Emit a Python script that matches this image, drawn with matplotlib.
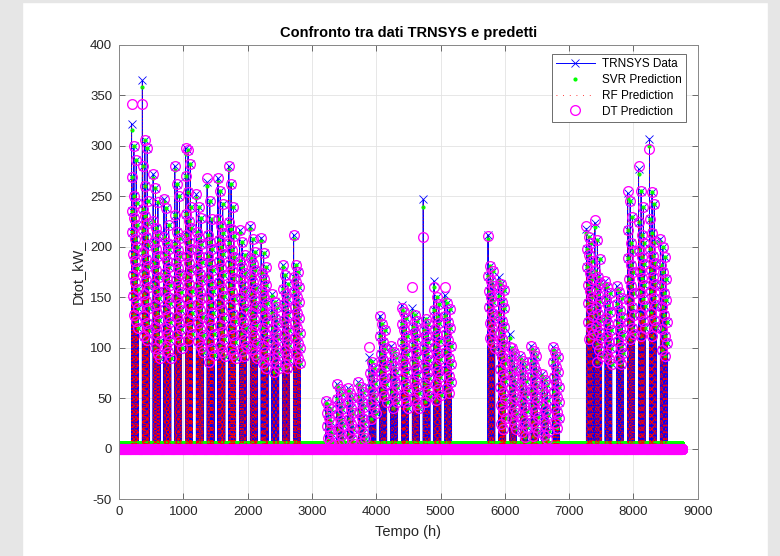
import numpy as np
import matplotlib.pyplot as plt
from matplotlib.patches import Rectangle

plt.rcParams['font.family'] = ['Liberation Sans', 'DejaVu Sans']
plt.rcParams['axes.unicode_minus'] = False

n_hours = 8760
block_len = 110

# start hour of each working week (blocks of non-zero load)
block_start = [195, 363, 531, 699, 867, 1035, 1203, 1371, 1539, 1707, 1875, 2043, 2211, 2379, 2547, 2715,
               3219, 3387, 3555, 3723, 3891, 4059, 4227, 4395, 4563, 4731, 4899, 5067,
               5739, 5907, 6075, 6243, 6411, 6579, 6747,
               7270, 7400, 7560, 7740, 7910, 8080, 8250, 8420]

# TRNSYS values read per block (kW), first value is the block peak
trnsys_blocks = [
    [322, 300, 286, 269, 250, 243, 236, 229, 222, 215, 208, 200, 193, 186, 179, 172, 165, 158, 151, 145, 139, 133, 127, 120],
    [365, 306, 298, 280, 260, 245, 238, 231, 224, 217, 210, 202, 195, 188, 181, 174, 167, 160, 153, 146, 139, 132, 125, 118, 112, 108],
    [272, 258, 244, 226, 219, 212, 205, 198, 191, 184, 177, 170, 163, 156, 149, 142, 135, 128, 121, 114, 107, 100, 94, 90],
    [247, 239, 222, 210, 204, 198, 192, 186, 180, 174, 168, 162, 156, 150, 144, 138, 132, 126, 120, 114, 108, 102, 96, 90],
    [280, 262, 250, 232, 215, 209, 203, 197, 191, 185, 179, 173, 167, 161, 155, 149, 143, 137, 131, 125, 119, 113, 107, 100],
    [298, 296, 282, 270, 254, 240, 233, 226, 219, 212, 205, 198, 191, 184, 177, 170, 163, 156, 149, 142, 135, 128, 121, 114, 108],
    [252, 240, 229, 215, 209, 203, 197, 191, 185, 179, 173, 167, 161, 155, 149, 143, 137, 131, 125, 119, 113, 107, 101, 96],
    [264, 245, 228, 212, 205, 198, 191, 184, 177, 170, 163, 156, 149, 142, 135, 128, 121, 114, 107, 100, 93, 86],
    [268, 255, 242, 228, 221, 214, 207, 200, 193, 186, 179, 172, 165, 158, 151, 144, 137, 130, 123, 116, 109, 102, 96, 92],
    [280, 262, 240, 225, 218, 211, 204, 197, 190, 183, 176, 169, 162, 155, 148, 141, 134, 127, 120, 113, 106, 99, 94, 90],
    [217, 205, 192, 186, 180, 174, 168, 162, 156, 150, 144, 138, 132, 126, 120, 114, 108, 102, 97, 92],
    [221, 208, 195, 189, 183, 177, 171, 165, 159, 153, 147, 141, 135, 129, 123, 117, 111, 105, 99, 94, 90],
    [209, 194, 180, 174, 168, 162, 156, 150, 144, 138, 132, 126, 120, 114, 108, 102, 96, 90, 85, 80],
    [153, 145, 140, 135, 130, 125, 120, 115, 110, 105, 100, 95, 90, 85, 80, 76],
    [182, 172, 163, 158, 153, 148, 143, 138, 133, 128, 123, 118, 113, 108, 103, 98, 93, 88, 84, 80],
    [212, 182, 175, 170, 165, 160, 155, 150, 145, 140, 135, 130, 125, 120, 115, 110, 105, 100, 95, 90, 85],
    [47, 43, 39, 35, 31, 27, 23, 19, 15, 11, 7, 4],
    [64, 59, 54, 49, 44, 39, 34, 29, 24, 19, 14, 9, 5],
    [60, 55, 50, 45, 40, 35, 30, 25, 20, 15, 10, 5],
    [66, 61, 56, 51, 46, 41, 36, 31, 26, 21, 16, 11, 6],
    [91, 86, 80, 75, 70, 65, 60, 55, 50, 45, 40, 35, 30],
    [132, 124, 118, 112, 106, 100, 94, 88, 82, 76, 70, 64, 58, 52, 46],
    [102, 96, 91, 86, 81, 76, 71, 66, 61, 56, 51, 46, 40],
    [142, 136, 130, 124, 118, 112, 106, 100, 94, 88, 82, 76, 70, 64, 58, 52, 46, 40],
    [139, 133, 127, 121, 115, 109, 103, 97, 91, 85, 79, 73, 67, 61, 55, 49, 44, 40],
    [247, 129, 124, 118, 112, 106, 100, 94, 88, 82, 76, 70, 64, 58, 52, 46],
    [166, 150, 143, 137, 131, 125, 119, 113, 107, 101, 95, 89, 83, 77, 71, 65, 59, 53, 48],
    [152, 144, 138, 132, 126, 120, 114, 108, 102, 96, 90, 84, 78, 72, 66, 60, 55],
    [212, 181, 176, 171, 166, 161, 156, 150, 145, 140, 135, 130, 125, 120, 115, 110, 105, 100],
    [170, 163, 157, 151, 145, 139, 133, 127, 121, 115, 109, 103, 97, 91, 85, 79, 73, 67, 61, 55, 49, 43, 37, 31, 25, 20],
    [114, 100, 95, 90, 85, 80, 75, 70, 65, 60, 55, 50, 45, 40, 35, 30, 25, 20],
    [92, 87, 82, 77, 72, 67, 62, 57, 52, 47, 42, 37, 32, 27, 22, 17, 12],
    [102, 97, 92, 87, 82, 77, 72, 67, 62, 57, 52, 47, 42, 37, 32, 27, 22, 17, 13],
    [74, 68, 63, 58, 53, 48, 43, 38, 33, 28, 23, 18, 14, 10],
    [101, 96, 91, 86, 81, 76, 71, 66, 61, 56, 51, 46, 41, 36, 31, 26, 21],
    [218, 210, 204, 198, 192, 186, 180, 174, 168, 162, 156, 150, 144, 138, 132, 126, 120, 114, 109],
    [224, 207, 188, 176, 170, 164, 158, 152, 146, 140, 134, 128, 122, 116, 110, 104, 98, 92, 86],
    [166, 160, 154, 148, 142, 136, 130, 124, 118, 112, 106, 100, 94, 89, 84],
    [161, 155, 149, 143, 137, 131, 125, 119, 113, 107, 101, 95, 89, 84],
    [253, 245, 230, 217, 204, 196, 189, 182, 175, 168, 161, 154, 147, 140, 133, 126, 120, 114, 109],
    [277, 255, 240, 225, 212, 204, 197, 190, 183, 176, 169, 162, 155, 148, 141, 134, 127, 120, 112],
    [307, 254, 242, 228, 214, 205, 198, 191, 184, 177, 170, 163, 156, 149, 142, 135, 128, 121, 112],
    [208, 200, 190, 182, 175, 168, 161, 154, 147, 140, 133, 126, 119, 112, 105, 98, 92],
]

# predicted block peaks (other hours match TRNSYS at this resolution)
svr_peak = [316, 358, 268, 244, 276, 292, 248, 260, 264, 276, 214, 218, 206, 151, 180, 208,
            45, 62, 58, 64, 88, 128, 99, 138, 136, 240, 160, 148,
            208, 166, 110, 90, 99, 72, 98,
            214, 220, 163, 158, 248, 272, 300, 205]
rf_peak = [320, 362, 270, 246, 279, 296, 250, 263, 266, 279, 216, 220, 208, 152, 181, 210,
           46, 63, 59, 65, 90, 130, 101, 140, 138, 244, 164, 150,
           211, 168, 112, 91, 100, 73, 100,
           216, 222, 165, 160, 251, 275, 304, 207]
dt_peak = [342, 342, 272, 247, 280, 298, 252, 268, 268, 280, 217, 221, 209, 153, 182, 212,
           47, 64, 60, 66, 101, 132, 102, 139, 160, 210, 160, 160,
           211, 160, 101, 92, 102, 74, 101,
           221, 227, 166, 161, 255, 280, 297, 208]

trnsys_zero = 0
svr_zero = 6
rf_zero = 0
dt_zero = 0


def build_series(peaks, zero_val):
    y = np.full(n_hours, zero_val, dtype=float)
    for s, vals, pk in zip(block_start, trnsys_blocks, peaks):
        vals = [pk] + vals[1:]
        vals = vals[0::3] + vals[1::3] + vals[2::3]  # spread the high values over the week
        for j, v in enumerate(vals):
            y[s + int(j * block_len / len(vals))] = v
    return y


hours = np.arange(n_hours)
trnsys = build_series([b[0] for b in trnsys_blocks], trnsys_zero)
svr = build_series(svr_peak, svr_zero)
rf = build_series(rf_peak, rf_zero)
dt = build_series(dt_peak, dt_zero)

fig = plt.figure(figsize=(7.8, 5.56), dpi=100)
ax = fig.add_axes([0.1526, 0.1020, 0.7419, 0.8171])

ax.plot(hours, trnsys, '-x', color='b', lw=0.7, ms=6, mew=0.6, label='TRNSYS Data')
ax.plot(hours, svr, '.', color=(0, 1, 0), ms=4, label='SVR Prediction')
ax.plot(hours, rf, color='r', lw=0.6, dashes=(1, 7), label='RF Prediction')
ax.plot(hours, dt, 'o', mfc='none', mec=(1, 0, 1), ms=7, mew=0.95, label='DT Prediction')

ax.set_xlim(0, 9000)
ax.set_ylim(-50, 400)
ax.set_xticks(np.arange(0, 9001, 1000))
ax.set_yticks(np.arange(-50, 401, 50))
ax.grid(True, color='#e3e3e3', lw=0.6)
ax.set_axisbelow(True)
ax.tick_params(direction='in', top=True, right=True, labelsize=9.5, length=4,
               color='#555555', width=0.6, labelcolor='#262626', pad=5)
for sp in ax.spines.values():
    sp.set_color('#888888')
    sp.set_linewidth(0.7)

ax.set_title('Confronto tra dati TRNSYS e predetti', fontsize=10.5, fontweight='bold', pad=6)
ax.set_xlabel('Tempo (h)', fontsize=10.5, color='#262626', labelpad=5)
ax.set_ylabel('Dtot_kW_', fontsize=10.5, color='#262626', labelpad=4)

leg = ax.legend(loc='upper right', bbox_to_anchor=(0.979, 0.980), borderaxespad=0, fontsize=8.5,
                fancybox=False, framealpha=1, edgecolor='#555555', handlelength=3.3,
                labelspacing=0.32, borderpad=0.35, handletextpad=0.6)
leg.get_frame().set_linewidth(0.6)

# grey window border around the figure
for r in [(0, 0, 22 / 780, 1), (768 / 780, 0, 12 / 780, 1), (0, 554 / 556, 1, 2 / 556)]:
    fig.patches.append(Rectangle(r[:2], r[2], r[3], transform=fig.transFigure,
                                 color='#e6e6e6', zorder=-1))

fig.savefig('out.png', dpi=100)
